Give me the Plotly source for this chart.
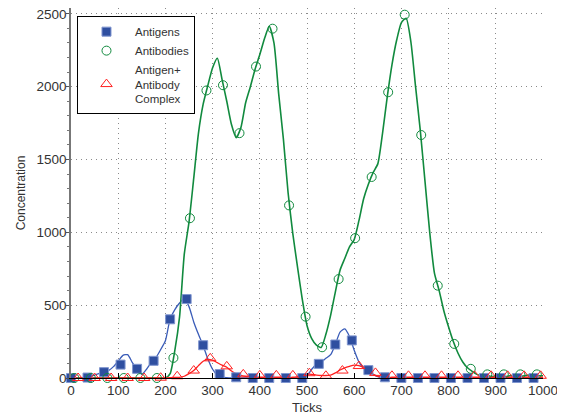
import plotly.graph_objects as go

# ---- data ----
line_x = list(range(0, 1001, 10))

antigen_line = [0, 0, 0, 2, 8, 20, 32, 40, 52, 78,
                115, 155, 160, 105, 60, 25, 60, 105, 140, 195,
                255, 405, 470, 515, 545, 490, 385, 300, 222, 130,
                60, 20, 6, 2, 0, 0, 0, 0, 0, 0,
                0, 0, 0, 0, 0, 0, 0, 0, 0, 3,
                15, 60, 95, 110, 135, 160, 230, 315, 337, 285,
                190, 110, 68, 50, 25, 10, 3, 0, 0, 0,
                0, 0, 0, 0, 0, 0, 0, 0, 0, 0,
                0, 0, 0, 0, 0, 0, 0, 0, 0, 0,
                0, 0, 0, 0, 0, 0, 0, 0, 0, 0, 0]

antibody_line = [0, 0, 0, 0, 0, 0, 0, 0, 0, 0,
                 0, 0, 0, 0, 0, 0, 0, 0, 0, 0,
                 0, 30, 190, 420, 850, 1070, 1370, 1680, 1880, 2010,
                 2130, 2195, 2050, 1900, 1740, 1650, 1720, 1890, 2000, 2120,
                 2220, 2330, 2415, 2300, 1950, 1640, 1270, 990, 760, 540,
                 360, 270, 225, 210, 300, 430, 590, 740, 820, 900,
                 950, 1080, 1230, 1330, 1410, 1470, 1680, 1930, 2150, 2320,
                 2440, 2470, 2310, 2000, 1700, 1350, 1000, 720, 600, 460,
                 350, 250, 170, 110, 70, 45, 25, 15, 20, 10,
                 15, 20, 10, 15, 20, 10, 15, 20, 10, 15, 15]

complex_line = [0, 0, 0, 0, 0, 0, 0, 0, 0, 0,
                0, 0, 0, 0, 0, 0, 0, 0, 0, 0,
                0, 2, 4, 5, 12, 30, 51, 85, 115, 128,
                122, 105, 88, 74, 48, 28, 18, 12, 8, 6,
                5, 5, 5, 5, 5, 5, 5, 5, 10, 18,
                28, 25, 20, 17, 17, 20, 35, 55, 70, 80,
                88, 85, 70, 45, 25, 12, 7, 5, 5, 5,
                5, 5, 5, 5, 5, 5, 5, 5, 5, 5,
                5, 5, 5, 5, 5, 5, 5, 5, 5, 5,
                5, 5, 5, 5, 5, 5, 5, 5, 5, 5, 5]

antigen_mx = [0, 35, 70, 105, 140, 175, 210, 245, 280, 315, 350, 385, 420, 455, 490,
              525, 560, 595, 630, 665, 700, 735, 770, 805, 840, 875, 910, 945, 980]
antigen_my = [0, 3, 40, 92, 63, 118, 403, 542, 225, 27, 5, 0, 0, 0, 0,
              97, 230, 258, 54, 5, 0, 0, 0, 0, 0, 0, 0, 0, 0]

antibody_mx = [7, 42, 77, 112, 147, 182, 217, 252, 287, 322, 357, 392, 427, 462, 497,
               532, 567, 602, 637, 672, 707, 742, 777, 812, 847, 882, 917, 952, 987]
antibody_my = [0, 0, 0, 0, 0, 0, 138, 1097, 1974, 2010, 1681, 2138, 2398, 1185, 421,
               211, 679, 960, 1380, 1962, 2494, 1668, 634, 234, 63, 25, 25, 25, 25]

complex_mx = [15, 50, 85, 120, 155, 190, 225, 260, 295, 330, 365, 400, 435, 470, 505,
              540, 575, 610, 645, 680, 715, 750, 785, 820, 855, 890, 925, 960, 995]
complex_my = [0, 0, 0, 0, 0, 2, 12, 51, 135, 80, 25, 18, 18, 18, 33,
              15, 51, 82, 35, 15, 15, 15, 15, 15, 15, 15, 15, 15, 15]

x_ticks = list(range(0, 1001, 100))
y_ticks = list(range(0, 2501, 500))

names = ["Antigens", "Antibodies", "Antigen+<br>Antibody<br>Complex"]

BLUE_M = "#2f4fa0"
BLUE_L = "#3a5cb8"
GREEN = "#118a3e"
RED = "#ff2020"

fig = go.Figure()

fig.add_trace(go.Scatter(x=line_x, y=antigen_line, mode="lines", line=dict(color=BLUE_L, width=1.3, shape="spline", smoothing=0.6),
                         showlegend=False, hoverinfo="skip"))
fig.add_trace(go.Scatter(x=line_x, y=antibody_line, mode="lines", line=dict(color=GREEN, width=1.6, shape="spline", smoothing=0.6),
                         showlegend=False, hoverinfo="skip"))
fig.add_trace(go.Scatter(x=line_x, y=complex_line, mode="lines", line=dict(color=RED, width=1.3, shape="spline", smoothing=0.6),
                         showlegend=False, hoverinfo="skip"))

fig.add_trace(go.Scatter(x=antigen_mx, y=antigen_my, mode="markers", name=names[0], cliponaxis=False,
                         marker=dict(symbol="square", size=9, color=BLUE_M, line=dict(color="#7f95cf", width=1))))
fig.add_trace(go.Scatter(x=antibody_mx, y=antibody_my, mode="markers", name=names[1], cliponaxis=False,
                         marker=dict(symbol="circle-open", size=9, color=GREEN, line=dict(color=GREEN, width=1))))
fig.add_trace(go.Scatter(x=complex_mx, y=complex_my, mode="markers", name=names[2], cliponaxis=False,
                         marker=dict(symbol="triangle-up-open", size=10, color=RED, line=dict(color=RED, width=1))))

# the page body adds an 8px offset; margins compensate for it
fig.update_layout(
    width=565, height=418,
    margin=dict(l=63, r=30, t=0, b=48, autoexpand=False),
    paper_bgcolor="white", plot_bgcolor="white",
    font=dict(family="Liberation Sans, Arial, sans-serif", color="#333333"),
    showlegend=True,
    legend=dict(x=0.0127, y=0.978, xanchor="left", yanchor="top",
                bgcolor="white", bordercolor="black", borderwidth=1,
                font=dict(size=11.5, color="#333333"), itemwidth=47,
                tracegroupgap=0),
)

fig.update_xaxes(range=[0, 1000], tickvals=x_ticks, ticks="inside", ticklen=5, tickcolor="black",
                 showline=True, linecolor="black", linewidth=1, automargin=False,
                 showgrid=True, gridcolor="#8a8a8a", griddash="1px,4px", gridwidth=1,
                 zeroline=False, tickfont=dict(size=13.5, color="#333333"),
                 ticklabeloverflow="allow",
                 title=dict(text="Ticks", font=dict(size=13, color="#333333"), standoff=5))
fig.update_yaxes(range=[0, 2540], tickvals=y_ticks, ticks="outside", ticklen=3, tickcolor="#555555",
                 showline=True, linecolor="#777777", linewidth=1.5, automargin=False,
                 ticklabelstandoff=-3, ticklabeloverflow="allow",
                 minor=dict(ticks="outside", ticklen=2, dtick=100, tickcolor="#777777", showgrid=False),
                 showgrid=True, gridcolor="#8a8a8a", griddash="1px,4px", gridwidth=1,
                 zeroline=False, tickfont=dict(size=13.5, color="#333333"),
                 title=dict(text="Concentration", font=dict(size=12, color="#333333"), standoff=8))

fig.write_html("out.html")
